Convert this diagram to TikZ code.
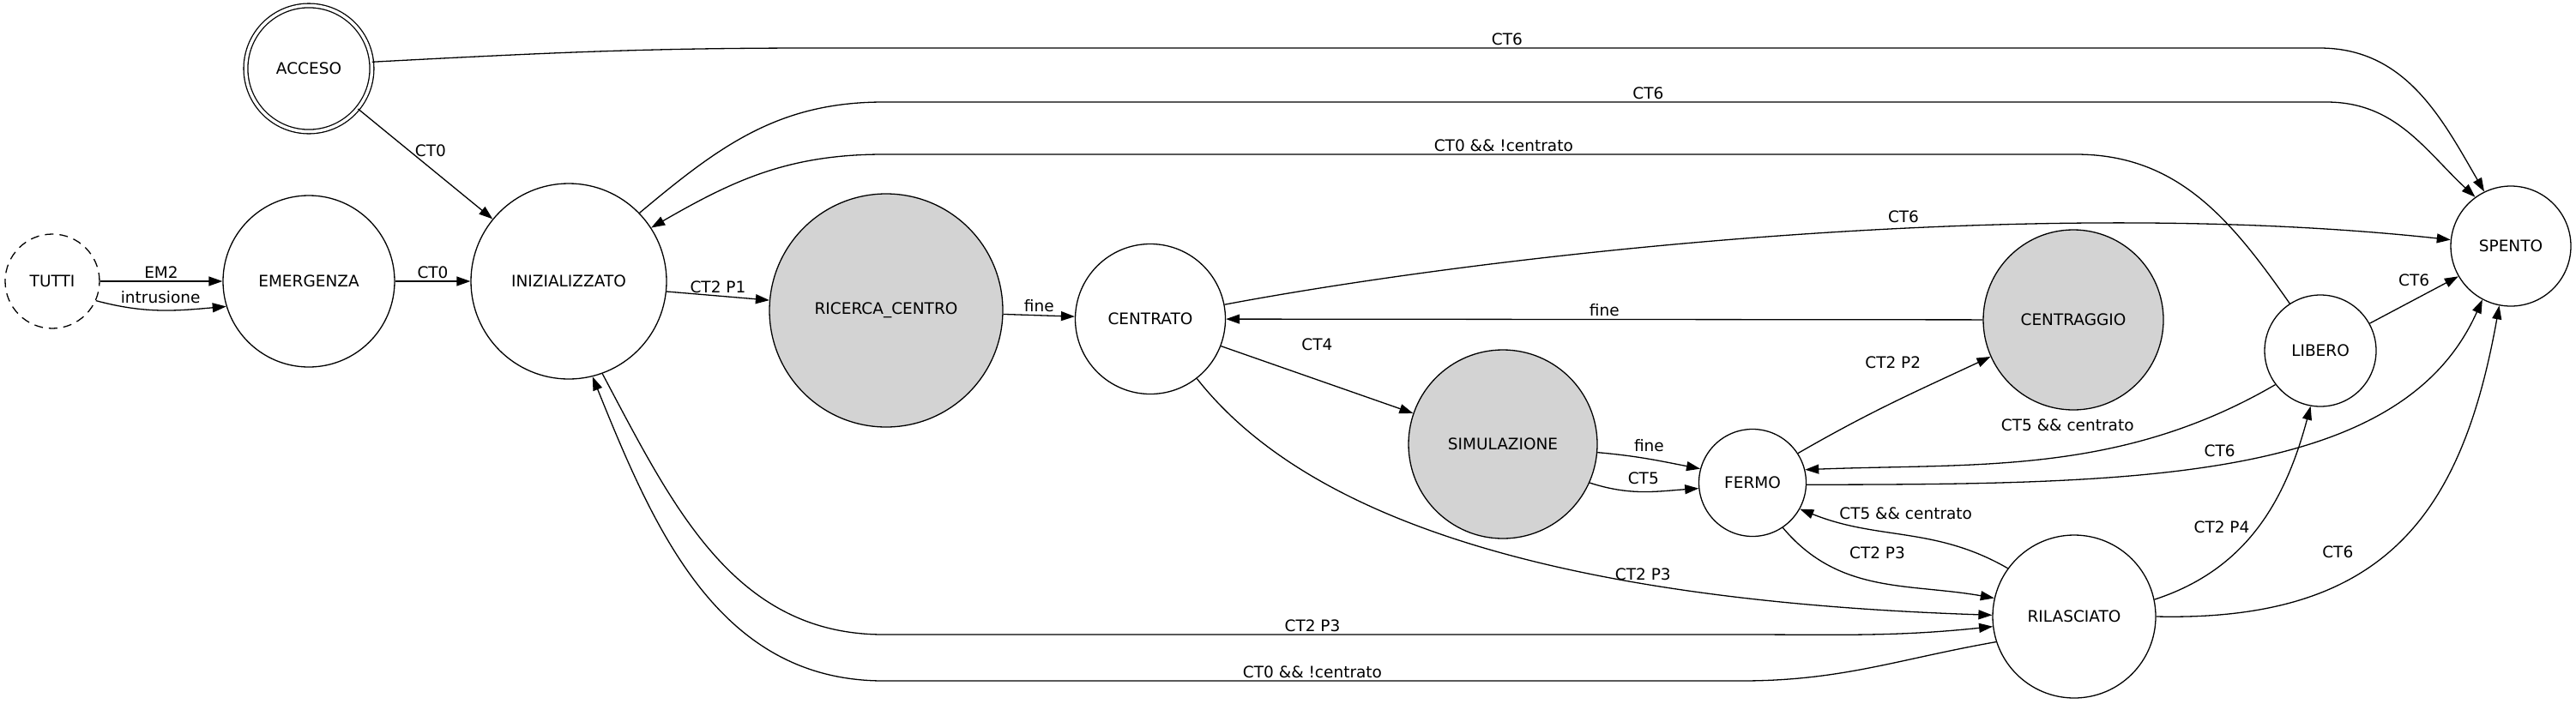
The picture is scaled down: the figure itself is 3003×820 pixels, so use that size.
\documentclass[tikz,border=0pt]{standalone}
\usepackage{fontspec}
\setmainfont{DejaVu Sans}
\usepackage{tikz}
\usepackage{xcolor}
\usetikzlibrary{arrows.meta}
\definecolor{busygray}{RGB}{211,211,211}

\begin{document}
\begin{tikzpicture}[x=1pt, y=-1pt, line width=1.3pt,
  every node/.style = {font=\fontsize{18.5}{22}\selectfont, inner sep=3pt},
  state/.style = {shape=circle, draw, inner sep=0pt},
  busy/.style = {state, fill=busygray},
  trans/.style = {-{Triangle[length=16pt, width=11pt]}}]
  \useasboundingbox (0,0) rectangle (3003,820);

  \node[state, dash pattern=on 10pt off 7pt, minimum size=110] (tutti) at (61,328) {TUTTI};
  \node[state, double, double distance=3.5pt, minimum size=147] (acceso) at (360,80) {ACCESO};
  \node[state, minimum size=200] (emergenza) at (360,328) {EMERGENZA};
  \node[state, minimum size=228] (iniz) at (663,328) {INIZIALIZZATO};
  \node[busy, minimum size=272] (ricerca) at (1033,362) {RICERCA\_CENTRO};
  \node[state, minimum size=175] (centrato) at (1341,372) {CENTRATO};
  \node[busy, minimum size=220] (simulazione) at (1752,518) {SIMULAZIONE};
  \node[state, minimum size=125] (fermo) at (2043,563) {FERMO};
  \node[busy, minimum size=210] (centraggio) at (2417,373) {CENTRAGGIO};
  \node[state, minimum size=130] (libero) at (2705,409) {LIBERO};
  \node[state, minimum size=140] (spento) at (2927,287) {SPENTO};
  \node[state, minimum size=190] (rilasciato) at (2418,719) {RILASCIATO};

  \draw[trans] (tutti) -- node[above] {EM2} (emergenza);
  \draw[trans] (tutti.-24) to[out=-15, in=185] node[above=4pt] {intrusione} (emergenza.197);
  \draw[trans] (emergenza) -- node[above] {CT0} (iniz);
  \draw[trans] (acceso) -- node[above=5pt, xshift=6pt] {CT0} (iniz);
  \draw[trans] (acceso.6) to[out=3, in=180] (950,56) -- node[above, pos=.46] {CT6} (2704,56) to[out=0, in=120] (spento.116);
  \draw[trans] (iniz.44) to[out=40, in=180] (1030,119) -- node[above, pos=.53] {CT6} (2712,119) to[out=0, in=137] (spento.126);
  \draw[trans] (libero.123) to[out=125, in=0] (2420,180) -- node[above, pos=.48] {CT0 \&\& !centrato} (1030,180) to[out=180, in=30] (iniz.33);
  \draw[trans] (iniz.-6) -- node[above] {CT2 P1} (ricerca.175);
  \draw[trans] (ricerca) -- node[above] {fine} (centrato);
  \draw[trans] (centrato.11) .. controls (1720,300) and (2350,225) .. node[above=3pt, pos=.6] {CT6} (spento.174);
  \draw[trans] (centraggio) -- node[above] {fine} (centrato);
  \draw[trans] (centrato.-21) -- node[above=30pt] {CT4} (simulazione.161);
  \draw[trans] (centrato.-52) .. controls (1520,600) and (1800,700) .. node[above, pos=.7] {CT2 P3} (rilasciato.179);
  \draw[trans] (iniz.-70) to[out=-62, in=180] (1030,740) -- node[above] {CT2 P3} (2030,740) to[out=0, in=186] (rilasciato.187);
  \draw[trans] (rilasciato.-162) to[out=190, in=0] (2030,794) -- node[above] {CT0 \&\& !centrato} (1030,794) to[out=180, in=-68] (iniz.-76);
  \draw[trans] (simulazione.-5) to[out=-5, in=169] node[above=5pt] {fine} (fermo.165);
  \draw[trans] (simulazione.-24) to[out=-18, in=184] node[above=5pt] {CT5} (fermo.-174);
  \draw[trans] (fermo.33) to[out=30, in=205] node[above=36pt] {CT2 P2} (centraggio.-156);
  \draw[trans] (libero.-143) .. controls (2470,555) and (2300,540) .. node[above=25pt, pos=.45] {CT5 \&\& centrato} (fermo.14);
  \draw[trans] (fermo.-2) .. controls (2500,565) and (2800,560) .. node[above=4pt, pos=.47] {CT6} (spento.-118);
  \draw[trans] (rilasciato.144) to[out=150, in=-22] node[above=14pt] {CT5 \&\& centrato} (fermo.-29);
  \draw[trans] (fermo.-56) to[out=-50, in=170] node[above=24pt] {CT2 P3} (rilasciato.167);
  \draw[trans] (rilasciato.12) to[out=18, in=-105] node[left=6pt] {CT2 P4} (libero.-100);
  \draw[trans] (rilasciato.0) .. controls (2780,725) and (2870,600) .. node[above left=10pt, pos=.4] {CT6} (spento.-101);
  \draw[trans] (libero.29) -- node[above=12pt] {CT6} (spento.210);
\end{tikzpicture}
\end{document}
